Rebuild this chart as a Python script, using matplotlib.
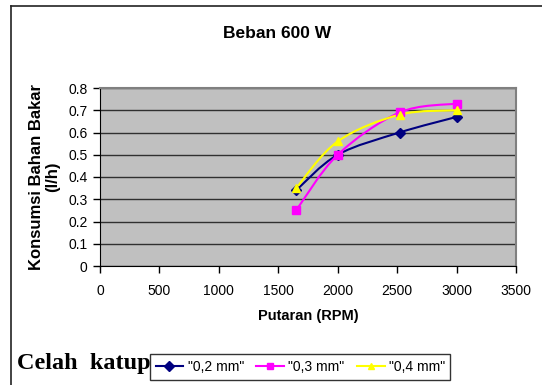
import matplotlib.pyplot as plt
from matplotlib.path import Path
from matplotlib.patches import PathPatch
from matplotlib.lines import Line2D
import numpy as np

# data
rpm = [1650, 2000, 2520, 3000]
celah_02 = [0.34, 0.50, 0.60, 0.67]
celah_03 = [0.25, 0.50, 0.69, 0.73]
celah_04 = [0.35, 0.56, 0.68, 0.70]
labels = ['"0,2 mm"', '"0,3 mm"', '"0,4 mm"']
colors = ['#000080', '#FF00FF', '#FFFF00']
markers = ['D', 's', '^']

plt.rcParams['font.family'] = ['Liberation Sans', 'DejaVu Sans']

W, H = 542, 385
fig = plt.figure(figsize=(W / 100, H / 100), dpi=100)
ax = fig.add_axes([100 / W, (H - 266) / H, 416 / W, 178 / H])


def smooth_path(x, y):
    # kurva halus ala Excel (bezier, tension 1/6)
    pts = np.column_stack([x, y]).astype(float)
    p = np.vstack([pts[0], pts, pts[-1]])
    verts = [pts[0]]
    codes = [Path.MOVETO]
    for i in range(1, len(p) - 2):
        c1 = p[i] + (p[i + 1] - p[i - 1]) / 6
        c2 = p[i + 1] - (p[i + 2] - p[i]) / 6
        verts += [c1, c2, p[i + 1]]
        codes += [Path.CURVE4] * 3
    return Path(verts, codes)


for yv, c, m in zip([celah_02, celah_03, celah_04], colors, markers):
    ax.add_patch(PathPatch(smooth_path(rpm, yv), facecolor='none',
                           edgecolor=c, lw=1.5, zorder=3))
    ax.plot(rpm, yv, ls='none', marker=m, color=c, ms=6 if m != 'D' else 5,
            zorder=4, clip_on=False)

ax.set_xlim(0, 3500)
ax.set_ylim(0, 0.8)
ax.set_xticks(np.arange(0, 3501, 500))
ax.set_yticks(np.arange(0, 0.81, 0.1))
ax.set_yticklabels(['0', '0.1', '0.2', '0.3', '0.4', '0.5', '0.6', '0.7', '0.8'])
ax.set_facecolor('#C0C0C0')
ax.grid(axis='y', color='#303030', lw=1)
ax.set_axisbelow(True)
ax.tick_params(axis='both', direction='out', length=5, width=1,
               labelsize=10, pad=4)
ax.tick_params(axis='x', pad=8)
for s in ['top', 'right']:
    ax.spines[s].set_color('#808080')
    ax.spines[s].set_linewidth(1.5)
for s in ['left', 'bottom']:
    ax.spines[s].set_color('black')

ax.set_xlabel('Putaran (RPM)', fontsize=10.5, fontweight='bold', labelpad=8)
fig.text(45 / W, 1 - 177 / H, 'Konsumsi Bahan Bakar\n(l/h)', rotation=90,
         ha='center', va='center', fontsize=12, fontweight='bold',
         linespacing=1.1)

fig.text(277 / W, 1 - 33 / H, 'Beban 600 W', ha='center', va='center',
         fontsize=12.5, fontweight='bold')

fig.text(17 / W, 1 - 363 / H, 'Celah  katup', ha='left', va='center',
         fontsize=17.5, fontweight='bold', family=['Liberation Serif'])

handles = [Line2D([], [], color=c, marker=m, lw=1.5, ms=5)
           for c, m in zip(colors, markers)]
leg = fig.legend(handles, labels, ncol=3, loc='center left',
                 bbox_to_anchor=(150 / W, 1 - 367 / H), fontsize=10,
                 frameon=True, fancybox=False, handlelength=2.0,
                 handletextpad=0.3, columnspacing=0.9, borderpad=0.4,
                 borderaxespad=0)
leg.get_frame().set_edgecolor('black')
leg.get_frame().set_linewidth(1)

# garis tepi halaman
fig.add_artist(Line2D([11 / W, 11 / W], [0, 1 - 6 / H], color='#222222', lw=1.2))
fig.add_artist(Line2D([11 / W, 1], [1 - 6 / H, 1 - 6 / H], color='#222222', lw=1.2))

fig.savefig('out.png', dpi=100)
